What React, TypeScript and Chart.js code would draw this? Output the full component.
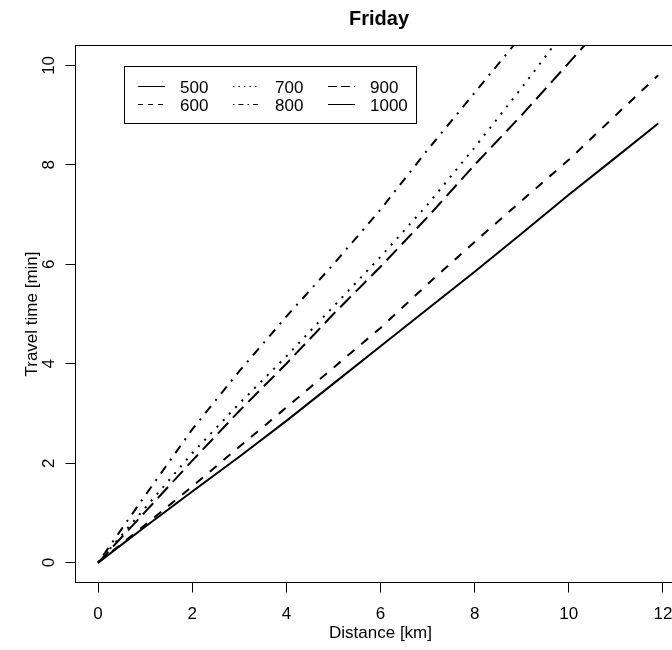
import React, { useEffect, useRef } from "react";
import { Chart, registerables } from "chart.js";

Chart.register(...registerables);

const FONT = "'Liberation Sans', Arial, Helvetica, sans-serif";

const chartTitle = "Friday";
const xAxisTitle = "Distance [km]";
const yAxisTitle = "Travel time [min]";

const xTickValues = [0, 2, 4, 6, 8, 10, 12];
const yTickValues = [0, 2, 4, 6, 8, 10];

const distanceKm = [0, 1, 2, 3, 4, 5, 6, 7, 8, 9, 10, 11, 11.9];

const seriesNames = ["500", "600", "700", "800", "900", "1000"];
const time500: number[] = [];
const time600 = [0, 0.76, 1.53, 2.33, 3.12, 3.92, 4.72, 5.6, 6.45, 7.28, 8.1, 9.0, 9.8];
const time700 = [0, 1.1, 2.2, 3.2, 4.15, 5.15, 6.15, 7.2, 8.35, 9.55, 10.8];
const time800 = [0, 1.35, 2.68, 3.85, 4.95, 6.0, 7.1, 8.3, 9.45, 10.6];
const time900 = [0, 1.02, 2.05, 3.05, 4.0, 5.0, 5.95, 6.95, 8.0, 9.0, 10.05, 11.1];
const time1000 = [0, 0.72, 1.43, 2.13, 2.85, 3.6, 4.35, 5.1, 5.85, 6.62, 7.4, 8.15, 8.83];

const seriesValues = [time500, time600, time700, time800, time900, time1000];

const plotDash = [[], [9, 9], [2, 7], [2, 7, 9, 7], [15, 7], []];
const legendDash = [[], [5, 5], [1.5, 4], [1.5, 4, 5, 4], [9, 4], []];

const W = 700;
const H = 650;

const overlayPlugin = {
  id: "rOverlay",
  afterDraw(chart: any) {
    const { ctx, chartArea: a } = chart;
    ctx.save();
    // plot frame
    ctx.strokeStyle = "#000";
    ctx.lineWidth = 1;
    ctx.setLineDash([]);
    ctx.strokeRect(a.left, a.top, a.right - a.left, a.bottom - a.top);
    // title
    ctx.fillStyle = "#000";
    ctx.font = `bold 20px ${FONT}`;
    ctx.textAlign = "center";
    ctx.textBaseline = "alphabetic";
    ctx.fillText(chartTitle, 379, 25);
    // legend box
    ctx.strokeRect(124.5, 66.5, 292, 57);
    const colLine = [138, 233, 328];
    const colText = [180, 275, 370];
    const rowY = [86.5, 104.5];
    ctx.font = `17px ${FONT}`;
    ctx.textAlign = "left";
    seriesNames.forEach((name, i) => {
      const col = Math.floor(i / 2);
      const row = i % 2;
      const y = rowY[row];
      ctx.beginPath();
      ctx.lineWidth = 1;
      ctx.lineCap = "butt";
      ctx.setLineDash(legendDash[i]);
      ctx.moveTo(colLine[col], y);
      ctx.lineTo(colLine[col] + 27, y);
      ctx.stroke();
      ctx.setLineDash([]);
      ctx.fillText(name, colText[col], y + 6);
    });
    ctx.restore();
  },
};

export default function App() {
  const canvasRef = useRef<HTMLCanvasElement | null>(null);

  useEffect(() => {
    document.body.style.margin = "0";
    const canvas = canvasRef.current;
    if (!canvas) return;

    const datasets = seriesNames.map((name, i) => ({
      label: name,
      data: seriesValues[i].map((y, j) => ({ x: distanceKm[j], y })),
      borderColor: "#000",
      backgroundColor: "#000",
      borderWidth: 2,
      borderDash: plotDash[i],
      borderCapStyle: "butt" as const,
      pointRadius: 0,
      tension: 0,
      fill: false,
    }));

    const tickFont = { family: FONT, size: 17 };

    const chart = new Chart(canvas, {
      type: "line",
      data: { datasets },
      options: {
        animation: false,
        responsive: false,
        devicePixelRatio: 1,
        layout: { padding: { top: 45.5, right: 14.5, bottom: 0, left: 0 } },
        plugins: {
          legend: { display: false },
          title: { display: false },
          tooltip: { enabled: false },
        },
        scales: {
          x: {
            type: "linear",
            min: -0.48,
            max: 12.48,
            afterBuildTicks: (s: any) => {
              s.ticks = xTickValues.map((v) => ({ value: v }));
            },
            afterFit: (s: any) => {
              s.height = 67.5;
            },
            grid: { drawOnChartArea: false, drawTicks: true, tickLength: 10, color: "#000", lineWidth: 1 },
            border: { display: false },
            ticks: { color: "#000", font: tickFont, padding: 12, maxRotation: 0, autoSkip: false },
            title: {
              display: true,
              text: xAxisTitle,
              color: "#000",
              font: tickFont,
              padding: { top: 0, bottom: 6 },
            },
          },
          y: {
            type: "linear",
            min: -0.4,
            max: 10.4,
            afterBuildTicks: (s: any) => {
              s.ticks = yTickValues.map((v) => ({ value: v }));
            },
            afterFit: (s: any) => {
              s.width = 75.5;
            },
            grid: { drawOnChartArea: false, drawTicks: true, tickLength: 10, color: "#000", lineWidth: 1 },
            border: { display: false },
            ticks: {
              color: "#000",
              font: tickFont,
              padding: 7,
              minRotation: 90,
              maxRotation: 90,
              crossAlign: "center",
              autoSkip: false,
            },
            title: {
              display: true,
              text: yAxisTitle,
              color: "#000",
              font: tickFont,
              padding: { top: 22, bottom: 0 },
            },
          },
        },
      } as any,
      plugins: [overlayPlugin],
    });

    return () => chart.destroy();
  }, []);

  return (
    <div style={{ width: 672, height: 650, overflow: "hidden", position: "relative" }}>
      <canvas
        ref={canvasRef}
        width={W}
        height={H}
        style={{ display: "block", width: W, height: H }}
      />
    </div>
  );
}
